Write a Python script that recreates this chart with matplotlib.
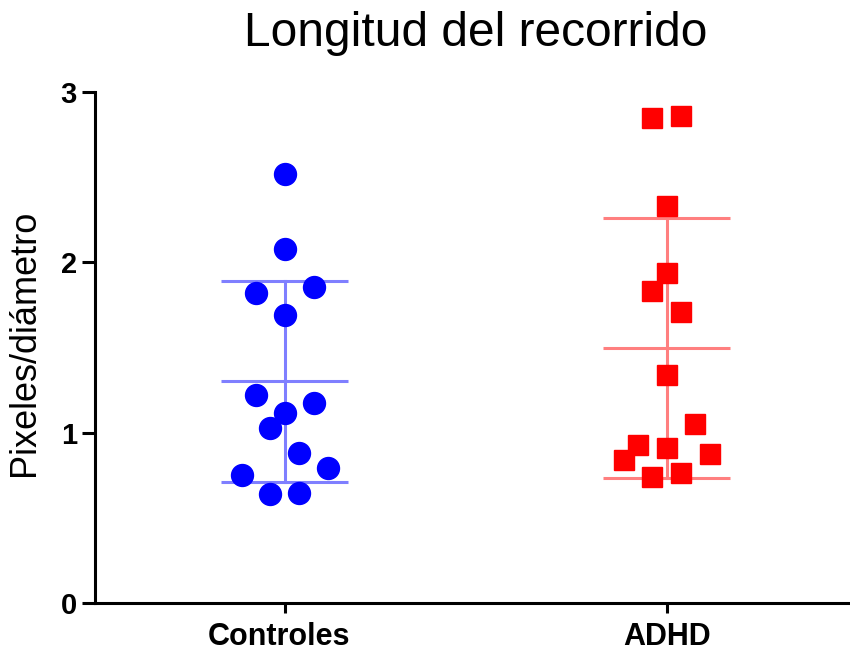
import numpy as np
import matplotlib
matplotlib.use("Agg")
import matplotlib.pyplot as plt
import matplotlib.transforms as mtransforms

plt.rcParams['font.family'] = ['Liberation Sans', 'DejaVu Sans']

title = "Longitud del recorrido"
ylabel = "Pixeles/diámetro"
categories = ["Controles", "ADHD"]

controles = [2.52, 2.08, 1.82, 1.855, 1.69, 1.22, 1.175, 1.115, 1.03, 0.88, 0.79, 0.75, 0.64, 0.645]
adhd = [2.85, 2.86, 2.33, 1.94, 1.83, 1.71, 1.34, 1.05, 0.93, 0.91, 0.84, 0.875, 0.74, 0.765]

# column index of each point in the scatter (horizontal jitter slot)
controles_cols = [0, 0, -2, 2, 0, -2, 2, 0, -1, 1, 3, -3, -1, 1]
adhd_cols = [-1, 1, 0, 0, -1, 1, 0, 2, -2, 0, -3, 3, -1, 1]

yticks = [0, 1, 2, 3]

fig = plt.figure(figsize=(8.5, 6.51), dpi=100)
ax = fig.add_axes([95/850, 48/651, 755/850, 511/651])

slot = 0.0377
half = 0.166
groups = [
    (controles, controles_cols, '#0000ff', '#7f7fff', 'o', 15.8),
    (adhd, adhd_cols, '#ff0000', '#ff7f7f', 's', 14.4),
]
for i, (vals, cols, c, lc, m, ms) in enumerate(groups):
    v = np.array(vals)
    x = i + np.array(cols) * slot
    mean = v.mean()
    sd = v.std(ddof=1)
    for yv in (mean, mean + sd, mean - sd):
        ax.plot([i - half, i + half], [yv, yv], color=lc, lw=2.2, zorder=2, solid_capstyle='butt')
    ax.plot([i, i], [mean - sd, mean + sd], color=lc, lw=2.2, zorder=2)
    ax.plot(x, v, linestyle='none', marker=m, ms=ms, color=c, mec=c, zorder=3)

ax.set_xlim(-0.497, 1.48)
ax.set_ylim(0, 3)
ax.set_yticks(yticks)
ax.set_yticklabels([str(t) for t in yticks])
ax.set_xticks([0, 1])
ax.set_xticklabels(categories)

for s in ['top', 'right']:
    ax.spines[s].set_visible(False)
for s in ['left', 'bottom']:
    ax.spines[s].set_linewidth(2.2)

ax.tick_params(axis='y', length=9.5, width=2.2, pad=3.5, labelsize=21)
ax.tick_params(axis='x', length=7, width=2.2, pad=7, labelsize=22)
for lab in ax.get_yticklabels() + ax.get_xticklabels():
    lab.set_fontweight('bold')
# the first category label sits slightly left of its tick in the reference
xl = ax.get_xticklabels()[0]
xl.set_transform(xl.get_transform() + mtransforms.ScaledTranslation(-6/100, 0, fig.dpi_scale_trans))

ax.set_ylabel(ylabel, fontsize=26)
ax.yaxis.set_label_coords(-0.07, 0.509)
ax.set_title(title, fontsize=34.5, pad=33, x=0.504)

fig.savefig("out.png", dpi=100)
